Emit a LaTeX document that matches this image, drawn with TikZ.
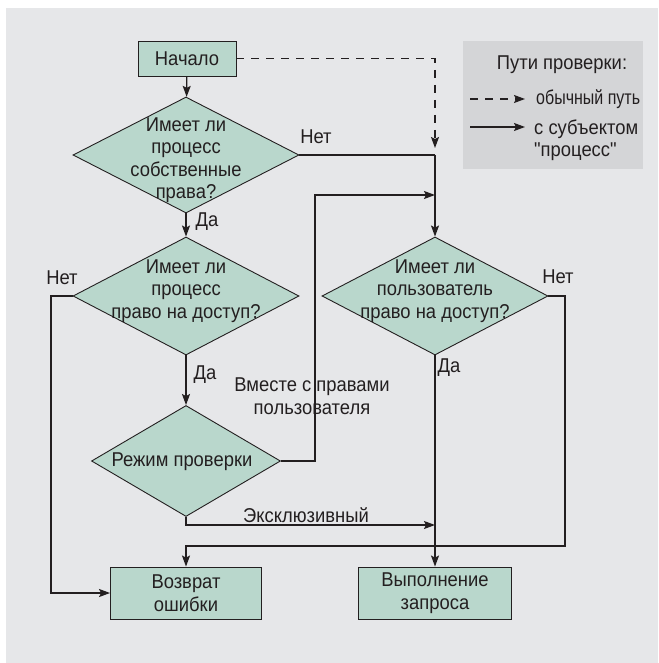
\documentclass[tikz,border=0pt]{standalone}
\usepackage{fontspec}
\newfontfamily\mainf{Liberation Sans}[FakeStretch=0.92]
\newfontfamily\narrowf{Liberation Sans}[FakeStretch=0.8]
\usetikzlibrary{shapes.geometric,arrows.meta}
\definecolor{bgc}{HTML}{E6E7E9}
\definecolor{legc}{HTML}{D4D5D7}
\definecolor{fillc}{HTML}{B9D7CC}
\definecolor{inkc}{HTML}{231F20}
\begin{document}
\begin{tikzpicture}[x=1pt,y=-1pt,
  font=\mainf\fontsize{20}{22.5}\selectfont,
  every node/.style={text=inkc},
  proc/.style={draw=inkc, line width=0.9pt, fill=fillc, rectangle, inner sep=0pt, align=center},
  dec/.style={draw=inkc, line width=0.9pt, fill=fillc, diamond, inner sep=0pt},
  conn/.style={draw=inkc, line width=1.3pt},
  arr/.style={conn, -{Stealth[length=11pt,width=8pt,inset=2pt]}},
  dashpath/.style={dash pattern=on 8pt off 7pt},
  lbl/.style={inner sep=0pt, align=center}
]
\useasboundingbox (0,0) rectangle (658,663);
\fill[white] (0,0) rectangle (658,663);
\fill[bgc] (6,8) rectangle (658,663);

% legend
\node[fill=legc, minimum width=180, minimum height=128, inner sep=0pt] (leg) at (553,105) {};
\node[lbl] (legt) at (562,65) {Пути проверки:};
\node[lbl, anchor=west, font=\narrowf\fontsize{20}{22.5}\selectfont] (legd) at (536,99) {обычный путь};
\node[lbl, anchor=west, align=left] (legs) at (534,140) {с субъектом\\"процесс"};
\coordinate (la1) at (470,99);
\coordinate (la2) at (525,99);
\coordinate (lb1) at (470,127);
\coordinate (lb2) at (525,127);
\draw[arr, dashpath] (la1) -- (la2);
\draw[arr] (lb1) -- (lb2);

% nodes
\node[proc, minimum width=98, minimum height=35] (start) at (187,58.5) {Начало};
\node[dec, minimum width=226, minimum height=116] (d1) at (186,155) {};
\node[lbl] (d1t) at (186,160) {Имеет ли\\процесс\\собственные\\права?};
\node[dec, minimum width=226, minimum height=118] (d2) at (186,296) {};
\node[lbl] (d2t) at (186,291) {Имеет ли\\процесс\\право на доступ?};
\node[dec, minimum width=189, minimum height=111] (d3) at (186,461) {};
\node[lbl] (d3t) at (182,462) {Режим проверки};
\node[dec, minimum width=226, minimum height=118] (d4) at (435,296) {};
\node[lbl] (d4t) at (435,291) {Имеет ли\\пользователь\\право на доступ?};
\node[proc, minimum width=151, minimum height=52] (err) at (186,593) {Возврат\\ошибки};
\node[proc, minimum width=153, minimum height=52] (ok) at (435,593) {Выполнение\\запроса};

% junctions
\coordinate (j1) at (435,155);
\coordinate (dj) at (435,148);
\coordinate (j2) at (315,195);
\coordinate (j2b) at (435,195);
\coordinate (j3) at (435,525);
\coordinate (j4) at (565,546);
\coordinate (j5) at (51,593);

% connectors
\draw[arr] (start) -- (d1);
\draw[arr] (d1) -- (d2);
\draw[arr] (d2) -- (d3);
\draw[arr, dashpath] (start.east) -| (dj);
\draw[conn] (d1.east) -- (j1);
\draw[arr] (j1) -- (d4.north);
\draw[arr] (d3.east) -| (j2) -- (j2b);
\draw[arr] (d3.south) |- (j3);
\draw[arr] (d4.south) -- (ok.north);
\draw[arr] (d4.east) -| (j4) -| (err.north);
\draw[arr] (d2.west) -| (j5) -- (err.west);

% labels
\node[lbl] (n1) at (316,137) {Нет};
\node[lbl] (y1) at (207,222) {Да};
\node[lbl] (n2) at (62,278) {Нет};
\node[lbl] (y2) at (205,375) {Да};
\node[lbl] (n4) at (558,277) {Нет};
\node[lbl] (y4) at (449,368) {Да};
\node[lbl] (ex) at (306,515) {Эксклюзивный};
\node[lbl] (wu) at (312,396) {Вместе с правами\\пользователя};
\end{tikzpicture}
\end{document}
